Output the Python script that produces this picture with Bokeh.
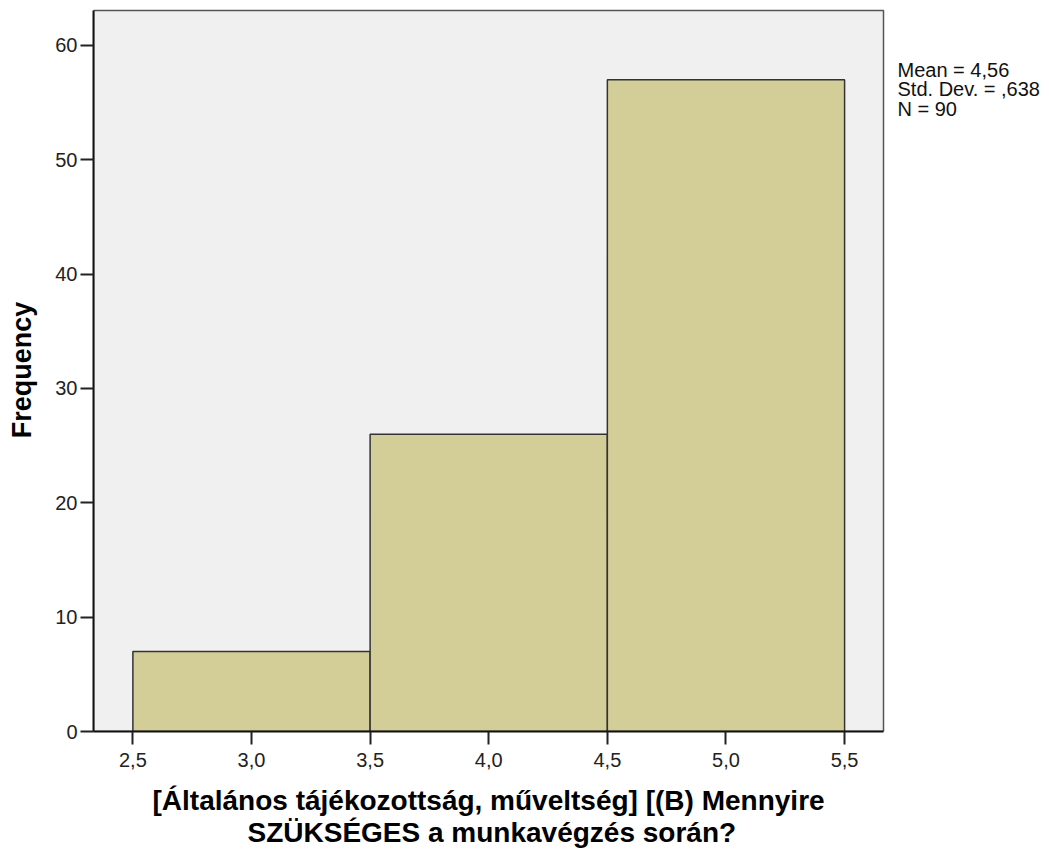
from bokeh.plotting import figure
from bokeh.models import Range1d, FixedTicker, CustomJSTickFormatter, ColumnDataSource, Title
from bokeh.core.properties import value
from bokeh.embed import file_html
from bokeh.resources import INLINE

# ---- data ----
bin_edges = [2.5, 3.5, 4.5, 5.5]
frequencies = [7, 26, 57]
x_ticks = [2.5, 3.0, 3.5, 4.0, 4.5, 5.0, 5.5]
y_ticks = [0, 10, 20, 30, 40, 50, 60]
stats_lines = ["Mean = 4,56", "Std. Dev. = ,638", "N = 90"]
x_title_lines = ["[Általános tájékozottság, műveltség] [(B) Mennyire",
                 "SZÜKSÉGES a munkavégzés során?"]
y_title = "Frequency"

# ---- layout constants (pixels / axis extents) ----
FONT = "Liberation Sans"
W, H = 1043, 850
BOX_L, BOX_T, BOX_R, BOX_B = 93, 10, 883, 731   # plot box in page pixels
X0, X1, Y1 = 2.334, 5.664, 63.06                 # plot box extents in data units
dx = (X1 - X0) / (BOX_R - BOX_L)
dy = Y1 / (BOX_B - BOX_T)
TOP_PAD = 2
TITLE_LEFT_PX = [152, 247]     # left edge of each x-title line (page px)
TITLE_STANDOFF = [26, -28]     # vertical placement of the two x-title lines

p = figure(width=W, height=H, output_backend="svg", toolbar_location=None,
           x_range=Range1d(X0, X0 + (W - BOX_L) * dx),
           y_range=Range1d(0, Y1 + TOP_PAD * dy),
           min_border_left=BOX_L, min_border_top=BOX_T - TOP_PAD,
           min_border_right=0, min_border_bottom=H - BOX_B)
p.background_fill_color = "white"
p.border_fill_color = "white"
p.outline_line_color = None
p.xgrid.visible = False
p.ygrid.visible = False

# plot box background and outline
p.quad(left=[X0], right=[X1], bottom=[0], top=[Y1],
       fill_color="#f0f0f0", line_color="#555555", line_width=1.5)

p.quad(left=bin_edges[:-1], right=bin_edges[1:], bottom=0, top=frequencies,
       fill_color="#d3ce97", line_color="#333333", line_width=1.5)

fmt = CustomJSTickFormatter(code="return tick.toFixed(1).replace('.', ',');")
for ax, ticks in ((p.xaxis[0], x_ticks), (p.yaxis[0], y_ticks)):
    ax.ticker = FixedTicker(ticks=ticks)
    ax.minor_tick_line_color = None
    ax.major_tick_in = 0
    ax.major_tick_out = 13
    ax.major_tick_line_color = "#222222"
    ax.major_tick_line_width = 2
    ax.axis_line_color = "#111111"
    ax.axis_line_width = 2
    ax.major_label_text_font = FONT
    ax.major_label_text_font_size = "20px"
    ax.major_label_text_color = "#222222"
    ax.axis_label_text_font = FONT
    ax.axis_label_text_font_style = "bold"
    ax.axis_label_text_color = "#000000"

p.xaxis[0].bounds = (X0, X1)
p.yaxis[0].bounds = (0, Y1)
p.xaxis[0].formatter = fmt
p.xaxis[0].major_label_standoff = 8

p.yaxis[0].major_label_standoff = 3
p.yaxis[0].axis_label = y_title
p.yaxis[0].axis_label_text_font_size = "27px"
p.yaxis[0].axis_label_standoff = 15

# x-axis title: two lines, centred under the plot box
for line, left_px, so in zip(x_title_lines, TITLE_LEFT_PX, TITLE_STANDOFF):
    p.add_layout(Title(text=line, align="left", offset=left_px - BOX_L,
                       text_font=FONT, text_font_size="28px",
                       text_font_style="bold", text_color="#000000",
                       standoff=so), "below")

# statistics text to the right of the plot box
baselines_px = [69, 88.5, 108]
src = ColumnDataSource(dict(
    x=[X1 + 14 * dx] * len(stats_lines),
    y=[Y1 - (b - BOX_T) * dy for b in baselines_px],
    t=stats_lines))
p.text(x="x", y="y", text="t", source=src, text_font=value(FONT),
       text_font_size="20px", text_color="#111111",
       text_baseline="alphabetic", text_align="left")

open("out.html", "w").write(file_html(p, INLINE))
